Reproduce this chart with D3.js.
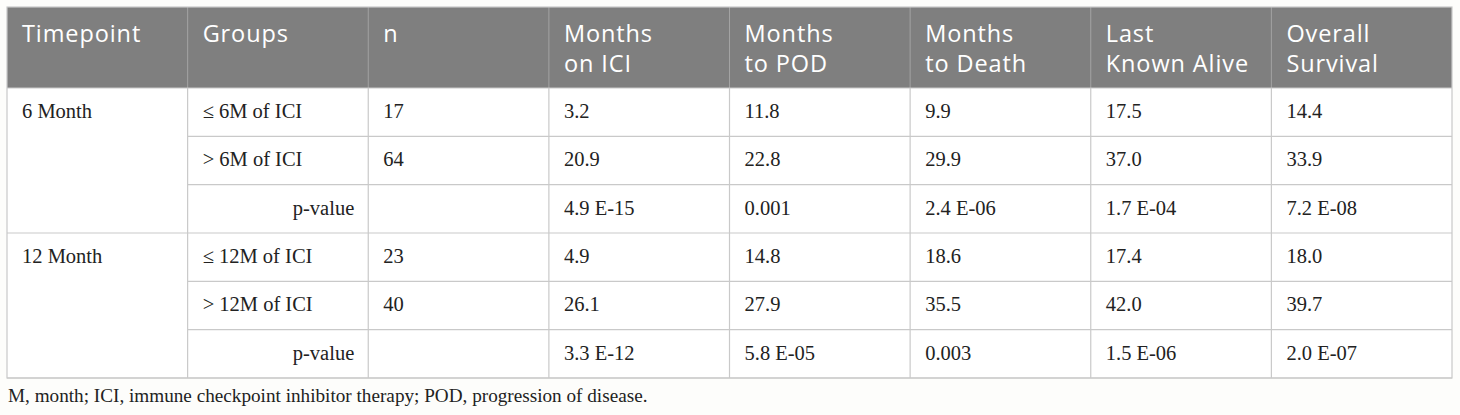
<!DOCTYPE html>
<html><head><meta charset="utf-8">
<script src="https://cdn.jsdelivr.net/npm/d3@7"></script>
<style>
html,body{margin:0;padding:0;background:#fdfdfb;}
svg{display:block;}
</style></head>
<body>
<svg id="chart" width="1460" height="415"></svg>
<script>
const headers = [["Timepoint"],["Groups"],["n"],["Months","on ICI"],["Months","to POD"],["Months","to Death"],["Last","Known Alive"],["Overall","Survival"]];
const timepoints = ["6 Month","12 Month"];
const groups = ["≤ 6M of ICI","> 6M of ICI","p-value","≤ 12M of ICI","> 12M of ICI","p-value"];
const nValues = ["17","64","","23","40",""];
const monthsOnICI = ["3.2","20.9","4.9 E-15","4.9","26.1","3.3 E-12"];
const monthsToPOD = ["11.8","22.8","0.001","14.8","27.9","5.8 E-05"];
const monthsToDeath = ["9.9","29.9","2.4 E-06","18.6","35.5","0.003"];
const lastKnownAlive = ["17.5","37.0","1.7 E-04","17.4","42.0","1.5 E-06"];
const overallSurvival = ["14.4","33.9","7.2 E-08","18.0","39.7","2.0 E-07"];
const footnote = "M, month; ICI, immune checkpoint inhibitor therapy; POD, progression of disease.";

const svg = d3.select("#chart");
const cols = d3.range(headers.length);
const x = d3.scaleBand().domain(cols).range([7, 1452]);
const rowsIdx = d3.range(groups.length);
const y = d3.scaleBand().domain(rowsIdx).range([88, 378]);
const headTop = 7, headBottom = 88;
const border = "#c9c9c9";

svg.append("rect").attr("x", x(0)).attr("y", headTop).attr("width", 1452-7).attr("height", headBottom-headTop).attr("fill", "#7f7f7f");
svg.append("rect").attr("x", x(0)).attr("y", headBottom).attr("width", 1452-7).attr("height", 378-headBottom).attr("fill", "#ffffff");

svg.selectAll("line.hv").data(cols.slice(1)).enter().append("line")
  .attr("x1", d => x(d)).attr("x2", d => x(d)).attr("y1", headTop).attr("y2", headBottom)
  .attr("stroke", "#a3a3a3").attr("stroke-width", 1);

svg.selectAll("line.bv").data(cols.slice(1)).enter().append("line")
  .attr("x1", d => x(d)).attr("x2", d => x(d)).attr("y1", headBottom).attr("y2", 378)
  .attr("stroke", border).attr("stroke-width", 1.2);

rowsIdx.forEach(i => {
  const yy = y(i) + y.bandwidth();
  const full = (i === 2 || i === 5);
  svg.append("line").attr("x1", full ? x(0) : x(1)).attr("x2", 1452).attr("y1", yy).attr("y2", yy)
    .attr("stroke", border).attr("stroke-width", 1.2);
});
svg.append("line").attr("x1", x(0)).attr("x2", 1452).attr("y1", headBottom).attr("y2", headBottom).attr("stroke", border).attr("stroke-width", 1.2);
svg.append("rect").attr("x", 7).attr("y", headTop).attr("width", 1452-7).attr("height", 378-headTop)
  .attr("fill", "none").attr("stroke", border).attr("stroke-width", 1.2);

// header text: one text element per line
const headerLines = [];
headers.forEach((lines, c) => lines.forEach((t, l) => headerLines.push({c, l, t})));
svg.selectAll("text.h").data(headerLines).enter().append("text")
  .attr("class", "h")
  .attr("x", d => x(d.c) + 15).attr("y", d => 42 + d.l * 30)
  .attr("fill", "#ffffff").attr("font-family", "'Open Sans', sans-serif").attr("font-size", 23.5)
  .attr("letter-spacing", 0.9).text(d => d.t);

const bodyFont = "'Liberation Serif', 'Times New Roman', serif";
const bodySize = 20.5;
const baseOff = 30;
svg.selectAll("text.tp").data(timepoints).enter().append("text")
  .attr("x", x(0) + 15).attr("y", (d,i) => y(i*3) + baseOff)
  .attr("font-family", bodyFont).attr("font-size", bodySize).attr("fill", "#222").text(d => d);

svg.selectAll("text.gr").data(groups).enter().append("text")
  .attr("x", d => d === "p-value" ? x(1) + x.bandwidth() - 14 : x(1) + 15)
  .attr("text-anchor", d => d === "p-value" ? "end" : "start")
  .attr("y", (d,i) => y(i) + baseOff)
  .attr("font-family", bodyFont).attr("font-size", bodySize).attr("fill", "#222").text(d => d);

const valueCols = [nValues, monthsOnICI, monthsToPOD, monthsToDeath, lastKnownAlive, overallSurvival];
valueCols.forEach((arr, c) => {
  svg.selectAll("text.v" + c).data(arr).enter().append("text")
    .attr("x", x(c + 2) + 15).attr("y", (d,i) => y(i) + baseOff)
    .attr("font-family", bodyFont).attr("font-size", bodySize).attr("fill", "#222").text(d => d);
});

svg.append("text").attr("x", 8).attr("y", 402).attr("font-family", bodyFont).attr("font-size", 19.2)
  .attr("fill", "#222").text(footnote);
</script>
</body></html>
